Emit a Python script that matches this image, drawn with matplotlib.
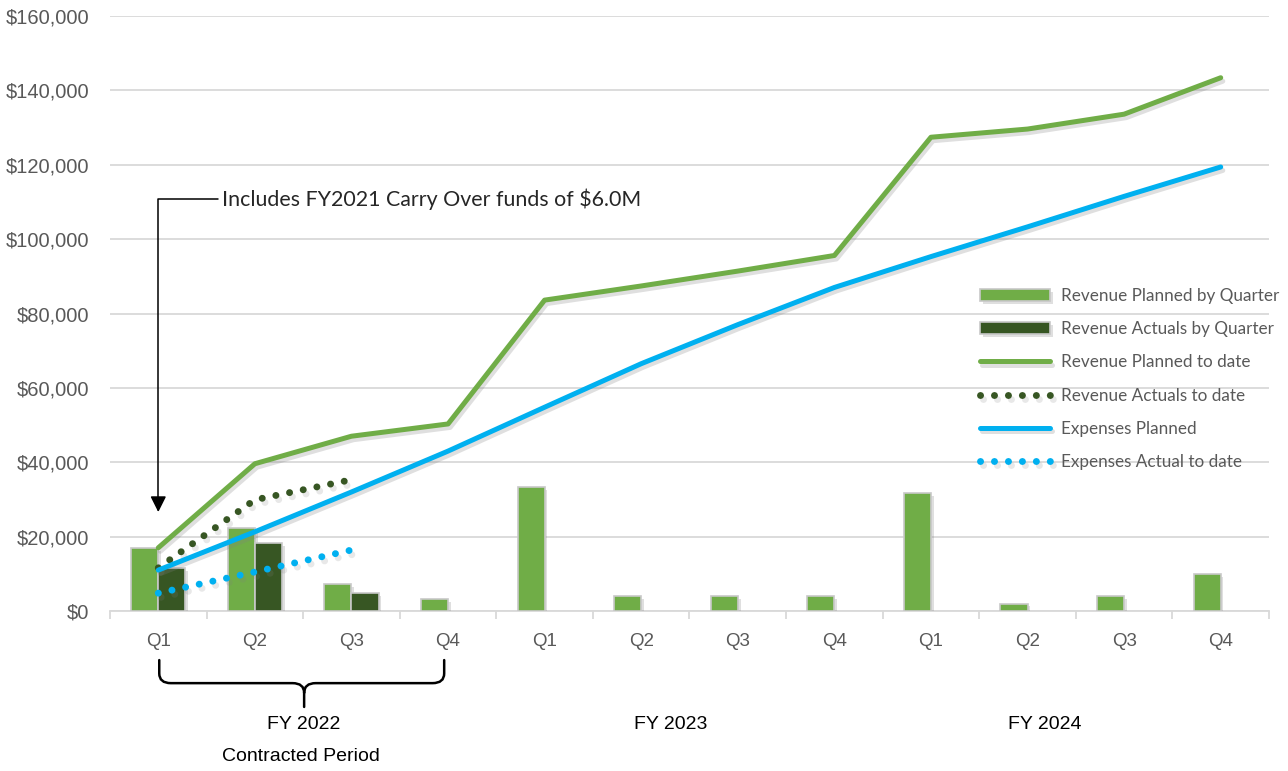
import numpy as np
import matplotlib
matplotlib.use("Agg")
import matplotlib.pyplot as plt
import matplotlib.patheffects as pe
from matplotlib.path import Path
from matplotlib.patches import PathPatch
from matplotlib.ticker import FuncFormatter, MultipleLocator

# data
quarters = ['Q1', 'Q2', 'Q3', 'Q4', 'Q1', 'Q2', 'Q3', 'Q4', 'Q1', 'Q2', 'Q3', 'Q4']
rev_planned_q = [17000, 22200, 7300, 3300, 33400, 4000, 4000, 4000, 31800, 2000, 4000, 10000]
rev_actual_q = [11600, 18300, 4900]
rev_planned_cum = [17000, 39600, 47000, 50300, 83600, 87400, 91400, 95600, 127400, 129600, 133600, 143400]
rev_actual_cum = [11600, 29900, 35300]
exp_planned = [11000, 21300, 32000, 43000, 54800, 66500, 77000, 87000, 95300, 103300, 111500, 119400]
exp_actual_cum = [4800, 10500, 16400]
years = ['FY 2022', 'FY 2023', 'FY 2024']
note = 'Includes FY2021 Carry Over funds of $6.0M'

light_green = '#70AD47'
dark_green = '#375623'
blue = '#00B0F0'
grid_gray = '#D9D9D9'
label_gray = '#595959'

axis_font = 'Liberation Sans'
note_font = 'Lato'

fig = plt.figure(figsize=(12.88, 7.71), dpi=100)
ax = fig.add_axes([110 / 1288, 1 - 611 / 771, 1159 / 1288, 595 / 771])

x = np.arange(len(quarters))
w = 0.28
shadow = [pe.SimpleLineShadow(offset=(1.5, -2.5), shadow_color='gray', alpha=0.25), pe.Normal()]
dot_shadow = [pe.SimpleLineShadow(offset=(2, -3), shadow_color='gray', alpha=0.18), pe.Normal()]
bar_shadow = [pe.SimplePatchShadow(offset=(2, -2), shadow_rgbFace='gray', alpha=0.25), pe.Normal()]

b1 = ax.bar(x - w / 2, rev_planned_q, width=w, color=light_green, edgecolor='#C8C8C8',
            linewidth=1.2, label='Revenue Planned by Quarter', zorder=3)
b2 = ax.bar(x[:len(rev_actual_q)] + w / 2, rev_actual_q, width=w, color=dark_green,
            edgecolor='#C8C8C8', linewidth=1.2, label='Revenue Actuals by Quarter', zorder=3)
for p in list(b1) + list(b2):
    p.set_path_effects(bar_shadow)

l1, = ax.plot(x, rev_planned_cum, color=light_green, lw=3.6, solid_capstyle='round',
              label='Revenue Planned to date', zorder=4, path_effects=shadow)
l2, = ax.plot(x[:len(rev_actual_cum)], rev_actual_cum, color=dark_green, lw=5,
              linestyle=(0, (0.01, 2.0)), dash_capstyle='round',
              label='Revenue Actuals to date', zorder=4, path_effects=dot_shadow)
l3, = ax.plot(x, exp_planned, color=blue, lw=3.6, solid_capstyle='round',
              label='Expenses Planned', zorder=5, path_effects=shadow)
l4, = ax.plot(x[:len(exp_actual_cum)], exp_actual_cum, color=blue, lw=5,
              linestyle=(0, (0.01, 2.0)), dash_capstyle='round',
              label='Expenses Actual to date', zorder=5, path_effects=dot_shadow)

# axes styling
ax.set_xlim(-0.5, 11.5)
ax.set_ylim(0, 160000)
ax.yaxis.set_major_locator(MultipleLocator(20000))
ax.yaxis.set_major_formatter(FuncFormatter(lambda v, _: '${:,.0f}'.format(v)))
ax.grid(axis='y', color=grid_gray, lw=1.3, zorder=0)
ax.set_axisbelow(True)
for s in ['top', 'right', 'left']:
    ax.spines[s].set_visible(False)
ax.spines['bottom'].set_color(grid_gray)
ax.spines['bottom'].set_linewidth(1.3)
ax.set_xticks(x)
ax.set_xticklabels(quarters)
ax.set_xticks(np.arange(-0.5, 12, 1), minor=True)
ax.tick_params(axis='x', which='major', length=0, pad=16, labelsize=13.5,
               labelcolor=label_gray)
ax.tick_params(axis='x', which='minor', length=6, color=grid_gray, width=1.3)
ax.tick_params(axis='y', length=0, pad=15, labelsize=14.5, labelcolor=label_gray)
for lab in ax.get_xticklabels() + ax.get_yticklabels():
    lab.set_fontfamily(axis_font)

# fiscal year labels under the quarters
year_pos = [1.51, 5.31, 9.18]
for xp, yl in zip(year_pos, years):
    ax.text(xp, -30500, yl, ha='center', va='center', fontsize=14,
            family=axis_font, color='black', clip_on=False)
ax.text(1.48, -39000, 'Contracted Period', ha='center', va='center', fontsize=14,
        family=axis_font, color='black', clip_on=False)

# curly brace below FY 2022
x0, x1, xm = 0.01, 2.96, 1.51
yt, ym, yb = -13200, -19400, -25800
rx, ry = 0.12, 2600
verts = [(x0, yt), (x0, ym + ry), (x0, ym), (x0 + rx, ym), (xm - rx, ym), (xm, ym), (xm, ym - ry), (xm, yb),
         (x1, yt), (x1, ym + ry), (x1, ym), (x1 - rx, ym), (xm + rx, ym), (xm, ym), (xm, ym - ry)]
codes = [Path.MOVETO, Path.LINETO, Path.CURVE3, Path.CURVE3, Path.LINETO, Path.CURVE3, Path.CURVE3, Path.LINETO,
         Path.MOVETO, Path.LINETO, Path.CURVE3, Path.CURVE3, Path.LINETO, Path.CURVE3, Path.CURVE3]
ax.add_patch(PathPatch(Path(verts, codes), fill=False, lw=1.8, color='black',
                       clip_on=False, capstyle='round'))

# carry over note with elbow arrow
ax.annotate('', xy=(0, 26600), xytext=(0.62, 110800),
            arrowprops=dict(arrowstyle='-|>', connectionstyle='angle,angleA=0,angleB=90,rad=0',
                            color='black', lw=1.1, mutation_scale=24, shrinkA=0, shrinkB=0),
            zorder=6)
ax.text(0.66, 110800, note, ha='left', va='center', fontsize=15.4, family=note_font,
        color='#262626')

leg = fig.legend(handles=[b1, b2, l1, l2, l3, l4], loc='center left',
                 bbox_to_anchor=(980 / 1288, 1 - 379 / 771),
                 frameon=False, prop={'family': note_font, 'size': 12.3},
                 handlelength=4.1, handletextpad=0.62, labelspacing=1.0,
                 borderpad=0, borderaxespad=0)
for t in leg.get_texts():
    t.set_color(label_gray)

fig.savefig('out.png', dpi=100)
